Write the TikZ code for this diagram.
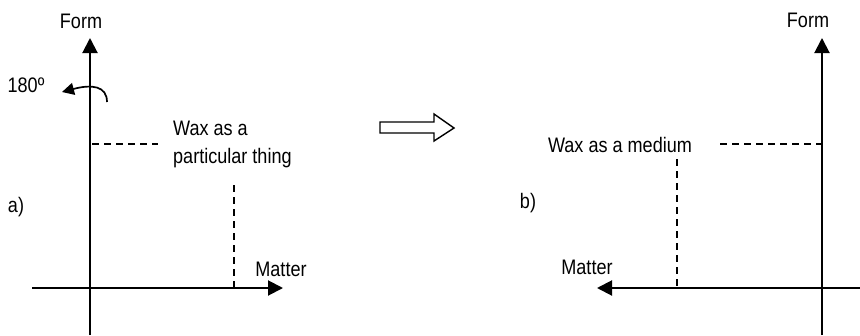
\documentclass[tikz,border=0pt]{standalone}
\usepackage{fontspec}
\setmainfont[FakeStretch=0.86]{Liberation Sans}
\usetikzlibrary{arrows.meta}
\begin{document}
\begin{tikzpicture}[x=1pt,y=-1pt,
  axis/.style={line width=2pt,-{Triangle[length=15pt,width=15pt]}},
  guide/.style={line width=1.4pt,dash pattern=on 7pt off 5pt},
  lbl/.style={font=\fontsize{21}{28}\selectfont,inner sep=0pt},
]
\useasboundingbox (0,0) rectangle (860,335);
% panel a
\coordinate (aAxB) at (90,335);
\coordinate (aAxT) at (90,38);
\coordinate (aAxL) at (32,288);
\coordinate (aAxR) at (283,288);
\draw[axis] (aAxB) -- (aAxT);
\draw[axis] (aAxL) -- (aAxR);
\node[lbl] (aForm) at (81,21) {Form};
\node[lbl] (aMatter) at (281,269) {Matter};
\node[lbl] (aLab) at (16,207) {a)};
\node[lbl] (a180) at (26,85) {180º};
\coordinate (rotS) at (107,102);
\coordinate (rotE) at (62,92);
\draw[line width=1.7pt,-{Triangle[length=12pt,width=12pt]}] (rotS) .. controls (107,86) and (92,84) .. (rotE);
\node[lbl,align=left,anchor=west] (aWax) at (173,144) {Wax as a\\particular thing};
\coordinate (aH1) at (92,144);
\coordinate (aH2) at (158,144);
\draw[guide] (aH1) -- (aH2);
\coordinate (aV1) at (234,185);
\coordinate (aV2) at (234,287);
\draw[guide] (aV1) -- (aV2);
% double arrow
\draw[line width=1.4pt] (380,122) -- (434,122) -- (434,114) -- (454,128) -- (434,141) -- (434,133) -- (380,133) -- cycle;
% panel b
\coordinate (bAxB) at (822,335);
\coordinate (bAxT) at (822,38);
\coordinate (bAxR) at (860,288);
\coordinate (bAxL) at (597,288);
\draw[axis] (bAxB) -- (bAxT);
\draw[axis] (bAxR) -- (bAxL);
\node[lbl] (bForm) at (808,20) {Form};
\node[lbl] (bMatter) at (587,267) {Matter};
\node[lbl] (bLab) at (528,203) {b)};
\node[lbl] (bWax) at (620,145) {Wax as a medium};
\coordinate (bH1) at (720,144);
\coordinate (bH2) at (821,144);
\draw[guide] (bH1) -- (bH2);
\coordinate (bV1) at (677,159);
\coordinate (bV2) at (677,287);
\draw[guide] (bV1) -- (bV2);
\end{tikzpicture}
\end{document}
